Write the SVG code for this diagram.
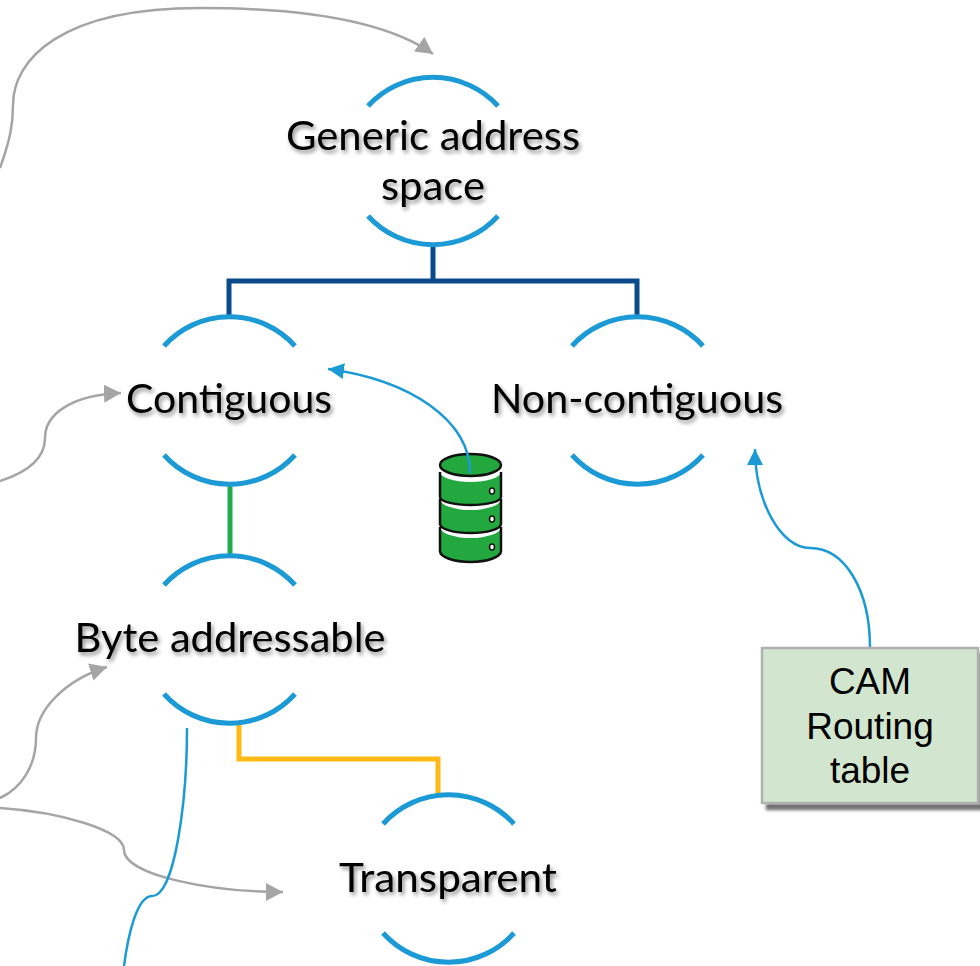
<svg xmlns="http://www.w3.org/2000/svg" width="980" height="966" viewBox="0 0 980 966">
<defs>
<marker id="ag" markerUnits="userSpaceOnUse" markerWidth="20" markerHeight="20" refX="17" refY="9" orient="auto"><path d="M0 0L17 9L0 18Z" fill="#a5a5a5"/></marker>
<marker id="ab" markerUnits="userSpaceOnUse" markerWidth="18" markerHeight="18" refX="16" refY="8" orient="auto"><path d="M0 0L16 8L0 16Z" fill="#1b9ad6"/></marker>
<filter id="ts" x="-10%" y="-20%" width="120%" height="150%"><feGaussianBlur in="SourceAlpha" stdDeviation="2"/><feOffset dx="2" dy="3"/><feComponentTransfer><feFuncA type="linear" slope="0.45"/></feComponentTransfer><feMerge><feMergeNode/><feMergeNode in="SourceGraphic"/></feMerge></filter>
<filter id="bs" x="-10%" y="-10%" width="120%" height="120%"><feGaussianBlur in="SourceAlpha" stdDeviation="1.500"/><feOffset dx="5" dy="6"/><feComponentTransfer><feFuncA type="linear" slope="0.55"/></feComponentTransfer><feMerge><feMergeNode/><feMergeNode in="SourceGraphic"/></feMerge></filter>
</defs>
<style>
.arc{fill:none;stroke:#1b9ad6;stroke-width:5}
.lbl{font-family:Lato,"Open Sans","Liberation Sans",sans-serif;font-size:40px;fill:#000;text-anchor:middle;filter:url(#ts)}
.thin{fill:none;stroke:#1b9ad6;stroke-width:2.500}
.gray{fill:none;stroke:#a5a5a5;stroke-width:2.500}
.ln{fill:none;stroke-width:5}
.cam{font-family:"Liberation Sans",Arial,sans-serif;font-size:37px;fill:#000;text-anchor:middle}
.fill{fill:#22a83f;stroke:none}
.edge{fill:none;stroke:#111;stroke-width:2.500}
.disk{fill:#22a83f;stroke:#111;stroke-width:2.500}
.led{fill:#fff;stroke:#111;stroke-width:1.500}
</style>
<rect width="980" height="966" fill="#fff"/>
<g id="node-database">
<path class="fill" d="M440 527A30.500 11 0 0 0 501 527V551A30.500 11 0 0 1 440 551Z"/>
<path class="edge" d="M440 527V551A30.500 11 0 0 0 501 551V527"/>
<path class="fill" d="M440 499A30.500 11 0 0 0 501 499V524A30.500 9 0 0 1 440 524Z"/>
<path class="edge" d="M440 499V524A30.500 9 0 0 0 501 524V499"/>
<path class="fill" d="M440 472A30.500 10 0 0 0 501 472V497A30.500 8 0 0 1 440 497Z"/>
<path class="edge" d="M440 472V497A30.500 8 0 0 0 501 497V472"/>
<ellipse class="disk" cx="470.500" cy="465" rx="30.500" ry="11"/>
<ellipse class="led" cx="492" cy="491" rx="2.500" ry="3"/>
<ellipse class="led" cx="492" cy="519" rx="2.500" ry="3"/>
<ellipse class="led" cx="492" cy="547" rx="2.500" ry="3"/>
</g>
<g id="connectors">
<path class="ln" stroke="#0b4a8b" d="M433 246V281M229 316V281H637V316"/>
<path class="ln" stroke="#22ad4c" d="M230 485V555"/>
<path class="ln" stroke="#ffb915" d="M239 724V759H438V795"/>
<path class="gray" marker-end="url(#ag)" d="M0 168C10 140 13 125 13 105C13 60 60 8 200 8C300 8 385 20 433 54"/>
<path class="gray" marker-end="url(#ag)" d="M0 481C25 473 45 460 45 438C45 415 70 395 121 393"/>
<path class="gray" marker-end="url(#ag)" d="M0 798C22 788 36 765 36 738C36 710 65 680 107 667"/>
<path class="gray" marker-end="url(#ag)" d="M0 808C60 812 124 830 124 850C124 875 210 892 283 892"/>
<path class="thin" marker-end="url(#ab)" d="M470 473C470 420 410 380 328 369"/>
<path class="thin" marker-end="url(#ab)" d="M870 648C870 590 845 548 810 548C780 548 755 500 755 449"/>
<path class="thin" d="M187 728C187 800 175 896 152 896C137 896 128 935 124 966"/>
</g>
<g id="node-generic"><path class="arc" d="M368 106A88 88 0 0 1 498 106M368 216A88 88 0 0 0 498 216"/><text class="lbl" x="433" y="150" textLength="294" lengthAdjust="spacingAndGlyphs">Generic address</text><text class="lbl" x="433" y="200" textLength="104" lengthAdjust="spacingAndGlyphs">space</text></g>
<g id="node-contiguous"><path class="arc" d="M164 346A88 88 0 0 1 295 346M164 455A88 88 0 0 0 295 455"/><text class="lbl" x="229" y="413" textLength="206" lengthAdjust="spacingAndGlyphs">Contiguous</text></g>
<g id="node-noncontiguous"><path class="arc" d="M572 346A88 88 0 0 1 703 346M572 455A88 88 0 0 0 703 455"/><text class="lbl" x="637" y="413" textLength="292" lengthAdjust="spacingAndGlyphs">Non-contiguous</text></g>
<g id="node-byte"><path class="arc" d="M164 585A88 88 0 0 1 295 585M164 694A88 88 0 0 0 295 694"/><text class="lbl" x="230" y="652" textLength="311" lengthAdjust="spacingAndGlyphs">Byte addressable</text></g>
<g id="node-transparent"><path class="arc" d="M383 824A88 88 0 0 1 514 824M383 933A88 88 0 0 0 514 933"/><text class="lbl" x="448" y="892" textLength="218" lengthAdjust="spacingAndGlyphs">Transparent</text></g>
<g id="node-cam"><rect x="762" y="648" width="216" height="155" fill="#d2e6cf" stroke="#b0b0b0" stroke-width="2.500" filter="url(#bs)"/><text class="cam" x="870" y="694">CAM</text><text class="cam" x="870" y="739">Routing</text><text class="cam" x="870" y="783">table</text></g>
</svg>
